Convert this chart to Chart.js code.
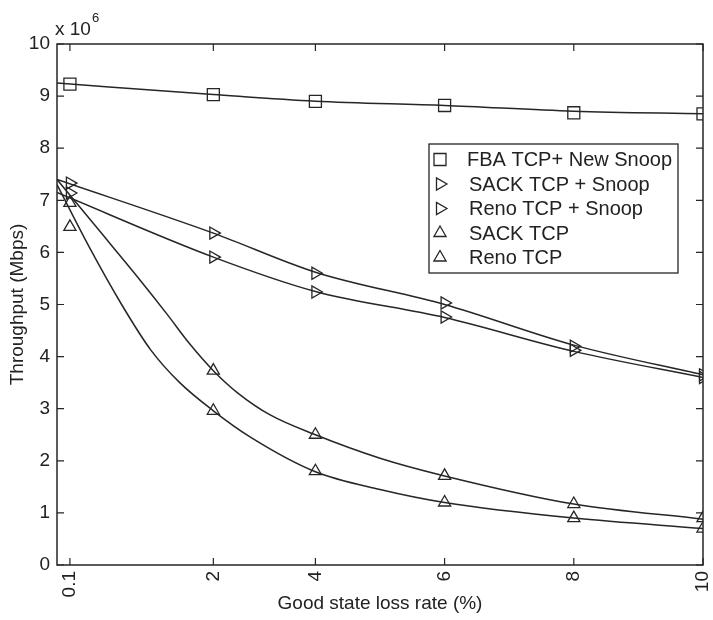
<!DOCTYPE html>
<html>
<head>
<meta charset="utf-8">
<script src="https://cdn.jsdelivr.net/npm/chart.js@4.4.1/dist/chart.umd.min.js"></script>
<style>
  html, body { margin: 0; padding: 0; background: #fff; }
</style>
</head>
<body>
<canvas id="throughputChart" width="713" height="620"></canvas>
<script>
// where each marker column sits on the axis, and what its tick says
var markX = [0.2, 2.42, 4, 6, 8, 10];
var tickLabels = ['0.1', '2', '4', '6', '8', '10'];

// throughput (x 10^6) at the markers
var fbaMarks       = [9.23, 9.03, 8.9, 8.82, 8.68, 8.66];
var sackSnoopMarks = [7.33, 6.37, 5.6, 5.03, 4.2, 3.65];
var renoSnoopMarks = [7.14, 5.91, 5.24, 4.76, 4.12, 3.6];
var sackMarks      = [6.95, 3.73, 2.5, 1.71, 1.17, 0.9];
var renoMarks      = [6.49, 2.96, 1.8, 1.2, 0.9, 0.7];

// fitted curves
var lineFitX     = [0, 2.42, 4, 6, 8, 10];
var fbaFit       = [9.25, 9.03, 8.9, 8.82, 8.71, 8.66];
var sackSnoopFit = [7.4, 6.37, 5.62, 5.0, 4.22, 3.65];
var renoSnoopFit = [7.15, 5.91, 5.25, 4.75, 4.1, 3.6];
var sackFitX     = [0, 0.6, 1.2, 1.7, 2.05, 2.42, 2.8, 3.3, 4, 5, 6, 8, 10];
var sackFit      = [7.4, 6.5, 5.6, 4.82, 4.25, 3.73, 3.3, 2.88, 2.5, 2.05, 1.71, 1.17, 0.88];
var renoFitX     = [0, 0.5, 1.0, 1.45, 1.9, 2.42, 3.0, 4, 5, 6, 8, 10];
var renoFit      = [7.3, 6.1, 5.0, 4.13, 3.5, 2.96, 2.45, 1.79, 1.45, 1.2, 0.9, 0.7];

var seriesNames = ['FBA TCP+ New Snoop', 'SACK TCP + Snoop', 'Reno TCP + Snoop', 'SACK TCP', 'Reno TCP'];

var ink = '#262626';
var textInk = '#222';
var fontFamily = '"Liberation Sans", Arial, Helvetica, sans-serif';

function pts(xs, ys) {
  return ys.map(function (y, i) { return { x: xs[i], y: y }; });
}

var markerStyles = [
  { pointStyle: 'rect', rotation: 0, radius: 8.5 },
  { pointStyle: 'triangle', rotation: 90, radius: 7 },
  { pointStyle: 'triangle', rotation: 90, radius: 7 },
  { pointStyle: 'triangle', rotation: 0, radius: 7 },
  { pointStyle: 'triangle', rotation: 0, radius: 7 }
];
var allMarks = [fbaMarks, sackSnoopMarks, renoSnoopMarks, sackMarks, renoMarks];
var allFits = [
  pts(lineFitX, fbaFit),
  pts(lineFitX, sackSnoopFit),
  pts(lineFitX, renoSnoopFit),
  pts(sackFitX, sackFit),
  pts(renoFitX, renoFit)
];

var datasets = [];
allFits.forEach(function (fit, i) {
  datasets.push({
    label: seriesNames[i] + ' fit',
    data: fit,
    showLine: true,
    borderColor: ink,
    borderWidth: 1.5,
    pointRadius: 0,
    cubicInterpolationMode: 'monotone'
  });
});
allMarks.forEach(function (marks, i) {
  datasets.push({
    label: seriesNames[i],
    data: pts(markX, marks),
    showLine: false,
    borderColor: ink,
    backgroundColor: 'rgba(0,0,0,0)',
    pointBorderWidth: 1.3,
    pointStyle: markerStyles[i].pointStyle,
    pointRotation: markerStyles[i].rotation,
    pointRadius: markerStyles[i].radius
  });
});

// box frame, inward ticks, the x 10^6 multiplier and the legend box
var matlabFrame = {
  id: 'matlabFrame',
  afterDraw: function (chart) {
    var ctx = chart.ctx;
    var a = chart.chartArea;
    var xs = chart.scales.x, ys = chart.scales.y;
    ctx.save();
    ctx.strokeStyle = ink;
    ctx.lineWidth = 1.5;
    ctx.strokeRect(a.left, a.top, a.right - a.left, a.bottom - a.top);

    ctx.lineWidth = 1.2;
    ctx.beginPath();
    xs.ticks.forEach(function (t) {
      var px = xs.getPixelForValue(t.value);
      ctx.moveTo(px, a.bottom); ctx.lineTo(px, a.bottom - 7);
      ctx.moveTo(px, a.top); ctx.lineTo(px, a.top + 7);
    });
    ys.ticks.forEach(function (t) {
      var py = ys.getPixelForValue(t.value);
      ctx.moveTo(a.left, py); ctx.lineTo(a.left + 7, py);
      ctx.moveTo(a.right, py); ctx.lineTo(a.right - 7, py);
    });
    ctx.stroke();

    // multiplier
    ctx.fillStyle = textInk;
    ctx.textBaseline = 'alphabetic';
    ctx.textAlign = 'left';
    ctx.font = '19px ' + fontFamily;
    ctx.fillText('x 10', a.left - 2, a.top - 9);
    var w = ctx.measureText('x 10').width;
    ctx.font = '13px ' + fontFamily;
    ctx.fillText('6', a.left - 1 + w, a.top - 22);

    // legend
    var lx = 429, ly = 144, lw = 249, lh = 129;
    ctx.fillStyle = '#fff';
    ctx.fillRect(lx, ly, lw, lh);
    ctx.lineWidth = 1.3;
    ctx.strokeRect(lx, ly, lw, lh);
    ctx.font = '20px ' + fontFamily;
    ctx.textBaseline = 'middle';
    seriesNames.forEach(function (name, i) {
      var cy = ly + 15.5 + i * 24.5;
      var st = markerStyles[i];
      ctx.strokeStyle = ink;
      ctx.fillStyle = 'rgba(0,0,0,0)';
      ctx.lineWidth = 1.3;
      Chart.helpers.drawPoint(ctx, {
        pointStyle: st.pointStyle,
        rotation: st.rotation,
        radius: st.radius,
        borderWidth: 1.3
      }, lx + 11, cy);
      ctx.fillStyle = textInk;
      ctx.fillText(name, lx + (i === 0 ? 38 : 40), cy + 1);
    });
    ctx.restore();
  }
};

var ctx = document.getElementById('throughputChart').getContext('2d');
var throughputChart = new Chart(ctx, {
  type: 'scatter',
  data: { datasets: datasets },
  options: {
    responsive: false,
    animation: false,
    layout: { padding: { top: 44, right: 10, left: 0, bottom: 0 } },
    plugins: {
      legend: { display: false },
      tooltip: { enabled: false }
    },
    scales: {
      x: {
        type: 'linear',
        min: 0,
        max: 10,
        afterBuildTicks: function (scale) {
          scale.ticks = markX.map(function (v) { return { value: v }; });
        },
        afterFit: function (scale) {
          scale.height = 55;
          scale.paddingLeft = 0;
          scale.paddingRight = 0;
        },
        grid: { display: false, drawTicks: false },
        border: { display: false },
        ticks: {
          color: textInk,
          font: { family: fontFamily, size: 19 },
          minRotation: 90,
          maxRotation: 90,
          padding: 6,
          callback: function (value, index) { return tickLabels[index]; }
        },
        title: {
          display: true,
          text: 'Good state loss rate (%)',
          color: textInk,
          font: { family: fontFamily, size: 19 },
          padding: { top: 0, bottom: 5 }
        }
      },
      y: {
        min: 0,
        max: 10,
        afterFit: function (scale) { scale.width = 57; },
        grid: { display: false, drawTicks: false },
        border: { display: false },
        ticks: {
          stepSize: 1,
          color: textInk,
          font: { family: fontFamily, size: 19 },
          padding: 7
        },
        title: {
          display: true,
          text: 'Throughput (Mbps)',
          color: textInk,
          font: { family: fontFamily, size: 19 },
          padding: { top: 6, bottom: 0 }
        }
      }
    }
  },
  plugins: [matlabFrame]
});
</script>
</body>
</html>
